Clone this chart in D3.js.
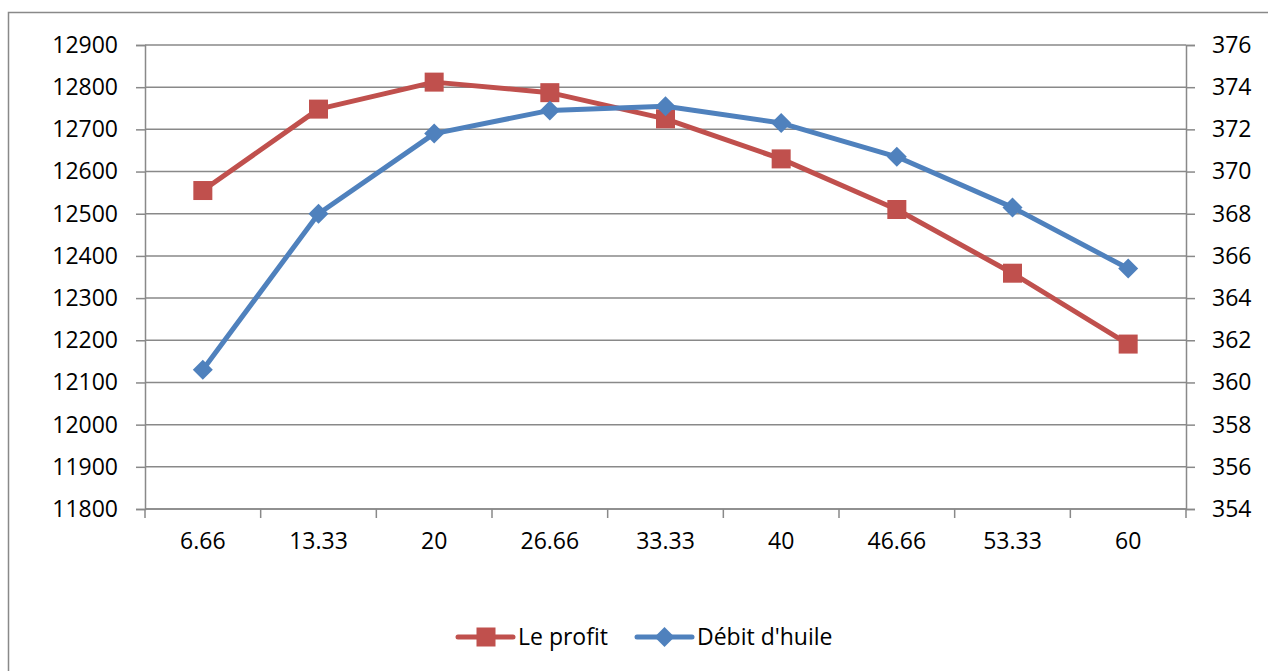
<!DOCTYPE html>
<html>
<head>
<meta charset="utf-8">
<script src="https://cdn.jsdelivr.net/npm/d3@7"></script>
<style>
  html, body { margin: 0; padding: 0; background: #fff; }
  svg { display: block; }
  text { font-family: "Open Sans", "Noto Sans", sans-serif; fill: #000; }
</style>
</head>
<body>
<svg id="chart" width="1268" height="671"></svg>
<script>
// Categories (x axis)
const categories = ["6.66", "13.33", "20", "26.66", "33.33", "40", "46.66", "53.33", "60"];
// Profit, left axis
const profit = [12555, 12748, 12812, 12787, 12725, 12630, 12510, 12359, 12191];
// Oil flow, right axis
const oilFlow = [360.6, 368.0, 371.8, 372.9, 373.1, 372.3, 370.7, 368.3, 365.4];
// Axis ticks
const leftTicks = [11800, 11900, 12000, 12100, 12200, 12300, 12400, 12500, 12600, 12700, 12800, 12900];
const rightTicks = [354, 356, 358, 360, 362, 364, 366, 368, 370, 372, 374, 376];
const seriesNames = ["Le profit", "Débit d'huile"];

const RED = "#C0504D", BLUE = "#4F81BD", GRID = "#898989";
const svg = d3.select("#chart");

const plot = { left: 145, right: 1186, top: 45, bottom: 509 };

// Outer frame
svg.append("rect")
  .attr("x", 8.5).attr("y", 12.5)
  .attr("width", 1400).attr("height", 800)
  .attr("fill", "none").attr("stroke", GRID).attr("stroke-width", 1.5);

const x = d3.scaleBand().domain(categories).range([plot.left, plot.right]).padding(0);
const yL = d3.scaleLinear().domain([11800, 12900]).range([plot.bottom, plot.top]);
const yR = d3.scaleLinear().domain([354, 376]).range([plot.bottom, plot.top]);

// Gridlines
svg.append("g").selectAll("line").data(leftTicks).join("line")
  .attr("x1", plot.left).attr("x2", plot.right)
  .attr("y1", d => yL(d)).attr("y2", d => yL(d))
  .attr("stroke", GRID).attr("stroke-width", 1.5);

// Left axis
const gL = svg.append("g").attr("transform", `translate(${plot.left},0)`)
  .call(d3.axisLeft(yL).tickValues(leftTicks).tickSize(9).tickPadding(18).tickFormat(d3.format("d")));
// Right axis
const gR = svg.append("g").attr("transform", `translate(${plot.right},0)`)
  .call(d3.axisRight(yR).tickValues(rightTicks).tickSize(9).tickPadding(17).tickFormat(d3.format("d")));
// Bottom axis with ticks between categories
const gB = svg.append("g").attr("transform", `translate(0,${plot.bottom})`)
  .call(d3.axisBottom(x).tickSize(0).tickPadding(24));
gB.selectAll(".tick").attr("transform", d => `translate(${x(d) + x.bandwidth() / 2},0)`);
gB.append("g").selectAll("line")
  .data(categories.map(c => x(c)).concat([plot.right]))
  .join("line")
  .attr("x1", d => d).attr("x2", d => d).attr("y1", 0).attr("y2", 9)
  .attr("stroke", GRID).attr("stroke-width", 1.5);

[gL, gR, gB].forEach(g => {
  g.select(".domain").attr("stroke", GRID).attr("stroke-width", 1.5);
  g.selectAll(".tick line").attr("stroke", GRID).attr("stroke-width", 1.5);
  g.selectAll("text").attr("font-size", 23).attr("fill", "#000")
    .style("font-family", "'Open Sans', sans-serif");
});
gB.select(".domain").attr("d", `M${plot.left},0H${plot.right}`);

const cx = c => x(c) + x.bandwidth() / 2;

// Profit line
svg.append("path")
  .datum(profit)
  .attr("fill", "none").attr("stroke", RED).attr("stroke-width", 5).attr("stroke-linejoin", "round")
  .attr("d", d3.line().x((d, i) => cx(categories[i])).y(d => yL(d)));
svg.append("g").selectAll("rect").data(profit).join("rect")
  .attr("x", (d, i) => cx(categories[i]) - 9.5).attr("y", d => yL(d) - 9.5)
  .attr("width", 19).attr("height", 19).attr("fill", RED);

// Oil flow line
svg.append("path")
  .datum(oilFlow)
  .attr("fill", "none").attr("stroke", BLUE).attr("stroke-width", 5).attr("stroke-linejoin", "round")
  .attr("d", d3.line().x((d, i) => cx(categories[i])).y(d => yR(d)));
const diamond = d3.symbol().type(d3.symbolSquare).size(200);
svg.append("g").selectAll("path").data(oilFlow).join("path")
  .attr("d", diamond)
  .attr("transform", (d, i) => `translate(${cx(categories[i])},${yR(d)}) rotate(45)`)
  .attr("fill", BLUE);

// Legend
const legend = svg.append("g").attr("transform", "translate(0,637)");
const items = [
  { name: seriesNames[0], color: RED, x0: 458, shape: "square" },
  { name: seriesNames[1], color: BLUE, x0: 637, shape: "diamond" }
];
items.forEach(it => {
  const g = legend.append("g").attr("transform", `translate(${it.x0},0)`);
  g.append("line").attr("x1", 0).attr("x2", 55).attr("y1", 0).attr("y2", 0)
    .attr("stroke", it.color).attr("stroke-width", 5).attr("stroke-linecap", "round");
  if (it.shape === "square") {
    g.append("rect").attr("x", 18.5).attr("y", -9.5).attr("width", 19).attr("height", 19).attr("fill", it.color);
  } else {
    g.append("path").attr("d", diamond).attr("transform", "translate(27.5,0) rotate(45)").attr("fill", it.color);
  }
  g.append("text").attr("x", 60).attr("y", 0).attr("dy", "0.35em")
    .attr("font-size", 23).text(it.name);
});
</script>
</body>
</html>
